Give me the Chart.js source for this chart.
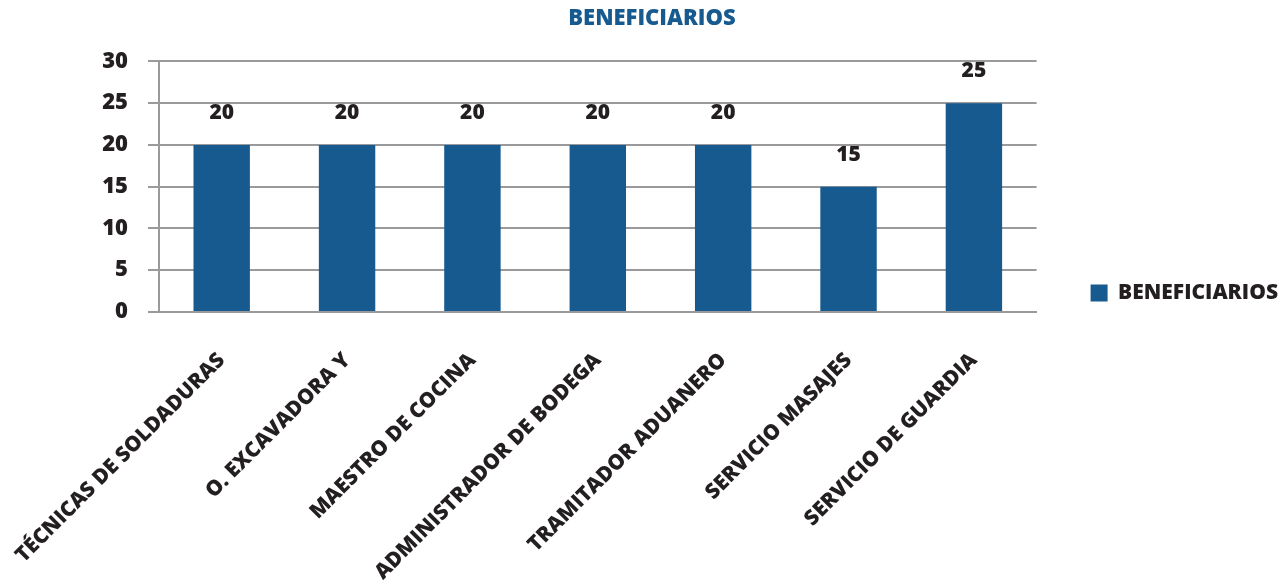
<!DOCTYPE html>
<html>
<head>
<meta charset="utf-8">
<script src="https://cdn.jsdelivr.net/npm/chart.js@4"></script>
<style>
  body { margin: 0; background: #fff; }
  #wrap { width: 1288px; height: 584px; }
</style>
</head>
<body>
<div id="wrap"><canvas id="myChart"></canvas></div>
<script>
var categories = ['TÉCNICAS DE SOLDADURAS', 'O. EXCAVADORA Y', 'MAESTRO DE COCINA',
  'ADMINISTRADOR DE BODEGA', 'TRAMITADOR ADUANERO', 'SERVICIO MASAJES', 'SERVICIO DE GUARDIA'];
var beneficiarios = [20, 20, 20, 20, 20, 15, 25];
var yTicks = [0, 5, 10, 15, 20, 25, 30];

var blue = '#165a8f';
var dark = '#231f20';
var fontName = "'Open Sans', sans-serif";

// value labels above the bars
var valueLabels = {
  id: 'valueLabels',
  afterDatasetsDraw: function(chart) {
    var ctx = chart.ctx;
    var meta = chart.getDatasetMeta(0);
    ctx.save();
    ctx.font = '800 21px ' + fontName;
    ctx.fillStyle = dark;
    ctx.textAlign = 'center';
    ctx.textBaseline = 'middle';
    meta.data.forEach(function(bar, i) {
      ctx.fillText(chart.data.datasets[0].data[i], bar.x, bar.y - 32);
    });
    ctx.restore();
  }
};

var ctx = document.getElementById('myChart').getContext('2d');
var chart = new Chart(ctx, {
  type: 'bar',
  data: {
    labels: categories,
    datasets: [{
      label: 'BENEFICIARIOS',
      data: beneficiarios,
      backgroundColor: blue,
      borderWidth: 0,
      categoryPercentage: 1,
      barPercentage: 0.45
    }]
  },
  options: {
    responsive: true,
    maintainAspectRatio: false,
    animation: false,
    layout: { padding: { top: 6, left: 16, right: 0, bottom: 4 } },
    plugins: {
      title: {
        display: true,
        text: 'BENEFICIARIOS',
        color: blue,
        font: { family: fontName, size: 22, weight: '800' },
        padding: { top: 0, bottom: 29 }
      },
      legend: {
        position: 'right',
        labels: {
          color: dark,
          font: { family: fontName, size: 21, weight: '800' },
          boxWidth: 17,
          boxHeight: 17,
          padding: 54
        }
      },
      tooltip: { enabled: false }
    },
    scales: {
      x: {
        afterFit: function(axis) {
          axis.height = 268;
          axis.paddingLeft = 0;
          axis.paddingRight = 0;
        },
        grid: { display: false },
        border: { display: true, color: '#9a9a9c', width: 2 },
        ticks: {
          color: dark,
          font: { family: fontName, size: 21, weight: '800' },
          minRotation: 45,
          maxRotation: 45,
          padding: 28
        }
      },
      y: {
        min: 0,
        max: 30,
        afterBuildTicks: function(axis) {
          axis.ticks = yTicks.map(function(v) { return { value: v }; });
        },
        afterFit: function(axis) { axis.width = 143; },
        grid: { color: '#9a9a9c', lineWidth: 2, tickLength: 11 },
        border: { display: true, color: '#9a9a9c', width: 2 },
        ticks: {
          color: dark,
          font: { family: fontName, size: 22, weight: '800' },
          padding: 20
        }
      }
    }
  },
  plugins: [valueLabels]
});
</script>
</body>
</html>
